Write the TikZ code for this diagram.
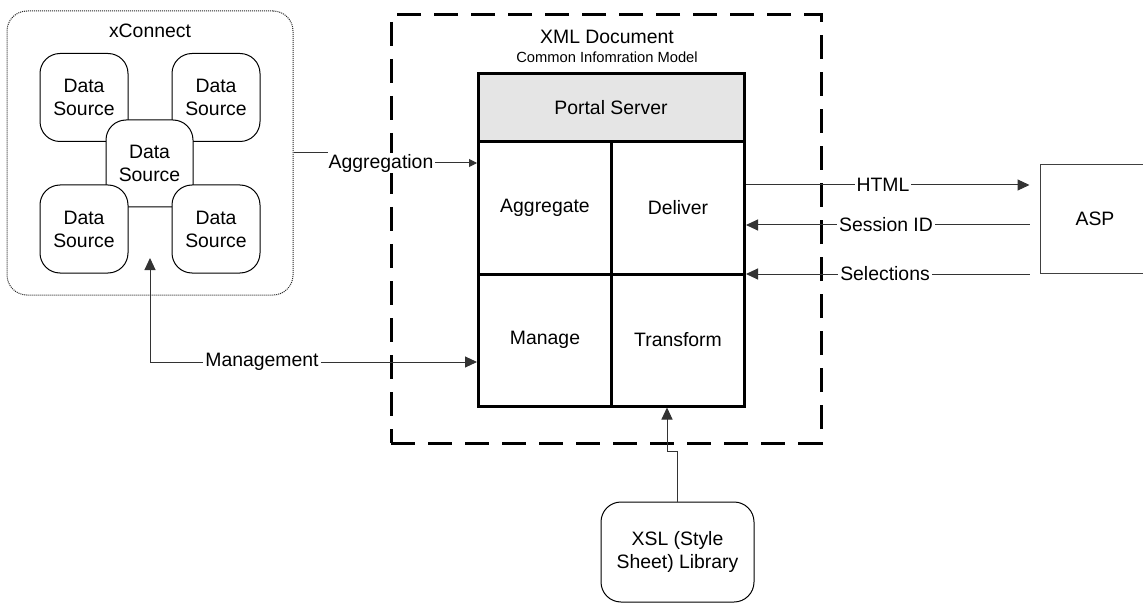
\documentclass[tikz,border=0pt]{standalone}
\usepackage{fontspec}
\setmainfont{Liberation Sans}
\usetikzlibrary{arrows.meta,calc}
\begin{document}
\begin{tikzpicture}[x=1pt,y=-1pt,
  every node/.style={font=\fontsize{19.4}{23}\selectfont, inner sep=0pt},
  smallfont/.style={font=\fontsize{14.7}{17}\selectfont},
  ds/.style={draw, fill=white, rounded corners=20pt, minimum width=88pt, minimum height=88pt, align=center, line width=1pt},
  cell/.style={draw, line width=3pt, minimum width=133pt, minimum height=132pt, align=center},
  conn/.style={line width=1pt, draw=black!80},
  arr/.style={-{Triangle[length=12pt,width=11pt]}},
  darr/.style={{Triangle[length=12pt,width=11pt]}-{Triangle[length=12pt,width=11pt]}},
  sarr/.style={-{Triangle[length=8pt,width=8pt]}},
  lbl/.style={fill=white, inner xsep=2pt, inner ysep=1pt}]
\useasboundingbox (0,0) rectangle (1143,604);
\fill[white] (0,0) rectangle (1143,604);

% xConnect group
\node[draw=black!85, line width=1pt, dash pattern=on 1pt off 1pt, rounded corners=20pt,
      minimum width=286pt, minimum height=284pt] (xc) at (150,153) {};
\node (xct) at (150,31) {xConnect};
\node[ds] (ds1) at (84,97.5) {Data\\Source};
\node[ds] (ds2) at (216,97.5) {Data\\Source};
\node[ds, minimum width=87pt, minimum height=87pt] (ds3) at (149.5,163.5) {Data\\Source};
\node[ds] (ds4) at (84,229) {Data\\Source};
\node[ds] (ds5) at (216,229) {Data\\Source};

% XML document dashed boundary
\node[draw, line width=3pt, dash pattern=on 24pt off 13pt, minimum width=430pt, minimum height=428pt] (xml) at (606,229) {};
\node (xmlt) at (607,37) {XML Document};
\node[smallfont] (cim) at (607,57) {Common Infomration Model};

% grid cells
\node[cell] (agg) at (545,208) {Aggregate};
\node[cell] (del) at (678,208) {Deliver};
\node[cell] (man) at (545,340) {Manage};
\node[cell] (tra) at (678,340) {Transform};
\node[draw, line width=3pt, fill=black!10, minimum width=266pt, minimum height=68pt] (ps) at (611,108) {Portal Server};

% ASP
\begin{scope}
\clip (0,0) rectangle (1143,604);
\node[draw=black!75, line width=1pt, minimum width=110pt, minimum height=109pt] (asp) at (1095,219) {ASP};
\end{scope}

% XSL library
\node[draw, line width=1pt, rounded corners=20pt, minimum width=153pt, minimum height=100pt, align=center] (xsl) at (677.5,552) {XSL (Style\\Sheet) Library};

% connectors
\coordinate (mtip) at (150,258);
\draw[conn, sarr] (xc.east) -- (327,153) -- (327,163) -- ($(agg.west)+(0,-45)$);
\node[lbl] (aggl) at (381,163) {Aggregation};

\draw[conn, darr] (mtip) |- ($(man.west)+(0,22)$);
\node[lbl] (manl) at (262,362) {Management};

\draw[conn, arr] ($(del.east)+(0,-23)$) -- ($(asp.west)+(-10,-34)$);
\node[lbl] (htmll) at (883,185) {HTML};
\draw[conn, arr] ($(asp.west)+(-10,6)$) -- ($(del.east)+(0,17)$);
\node[lbl] (sidl) at (886,225) {Session ID};
\draw[conn, arr] ($(asp.west)+(-10,55)$) -- ($(del.east)+(0,66)$);
\node[lbl] (sell) at (885,274) {Selections};

\draw[conn, arr] (xsl.north) |- ($(tra.south)+(-11,44)$) -- ($(tra.south)+(-11,0)$);
\end{tikzpicture}
\end{document}
